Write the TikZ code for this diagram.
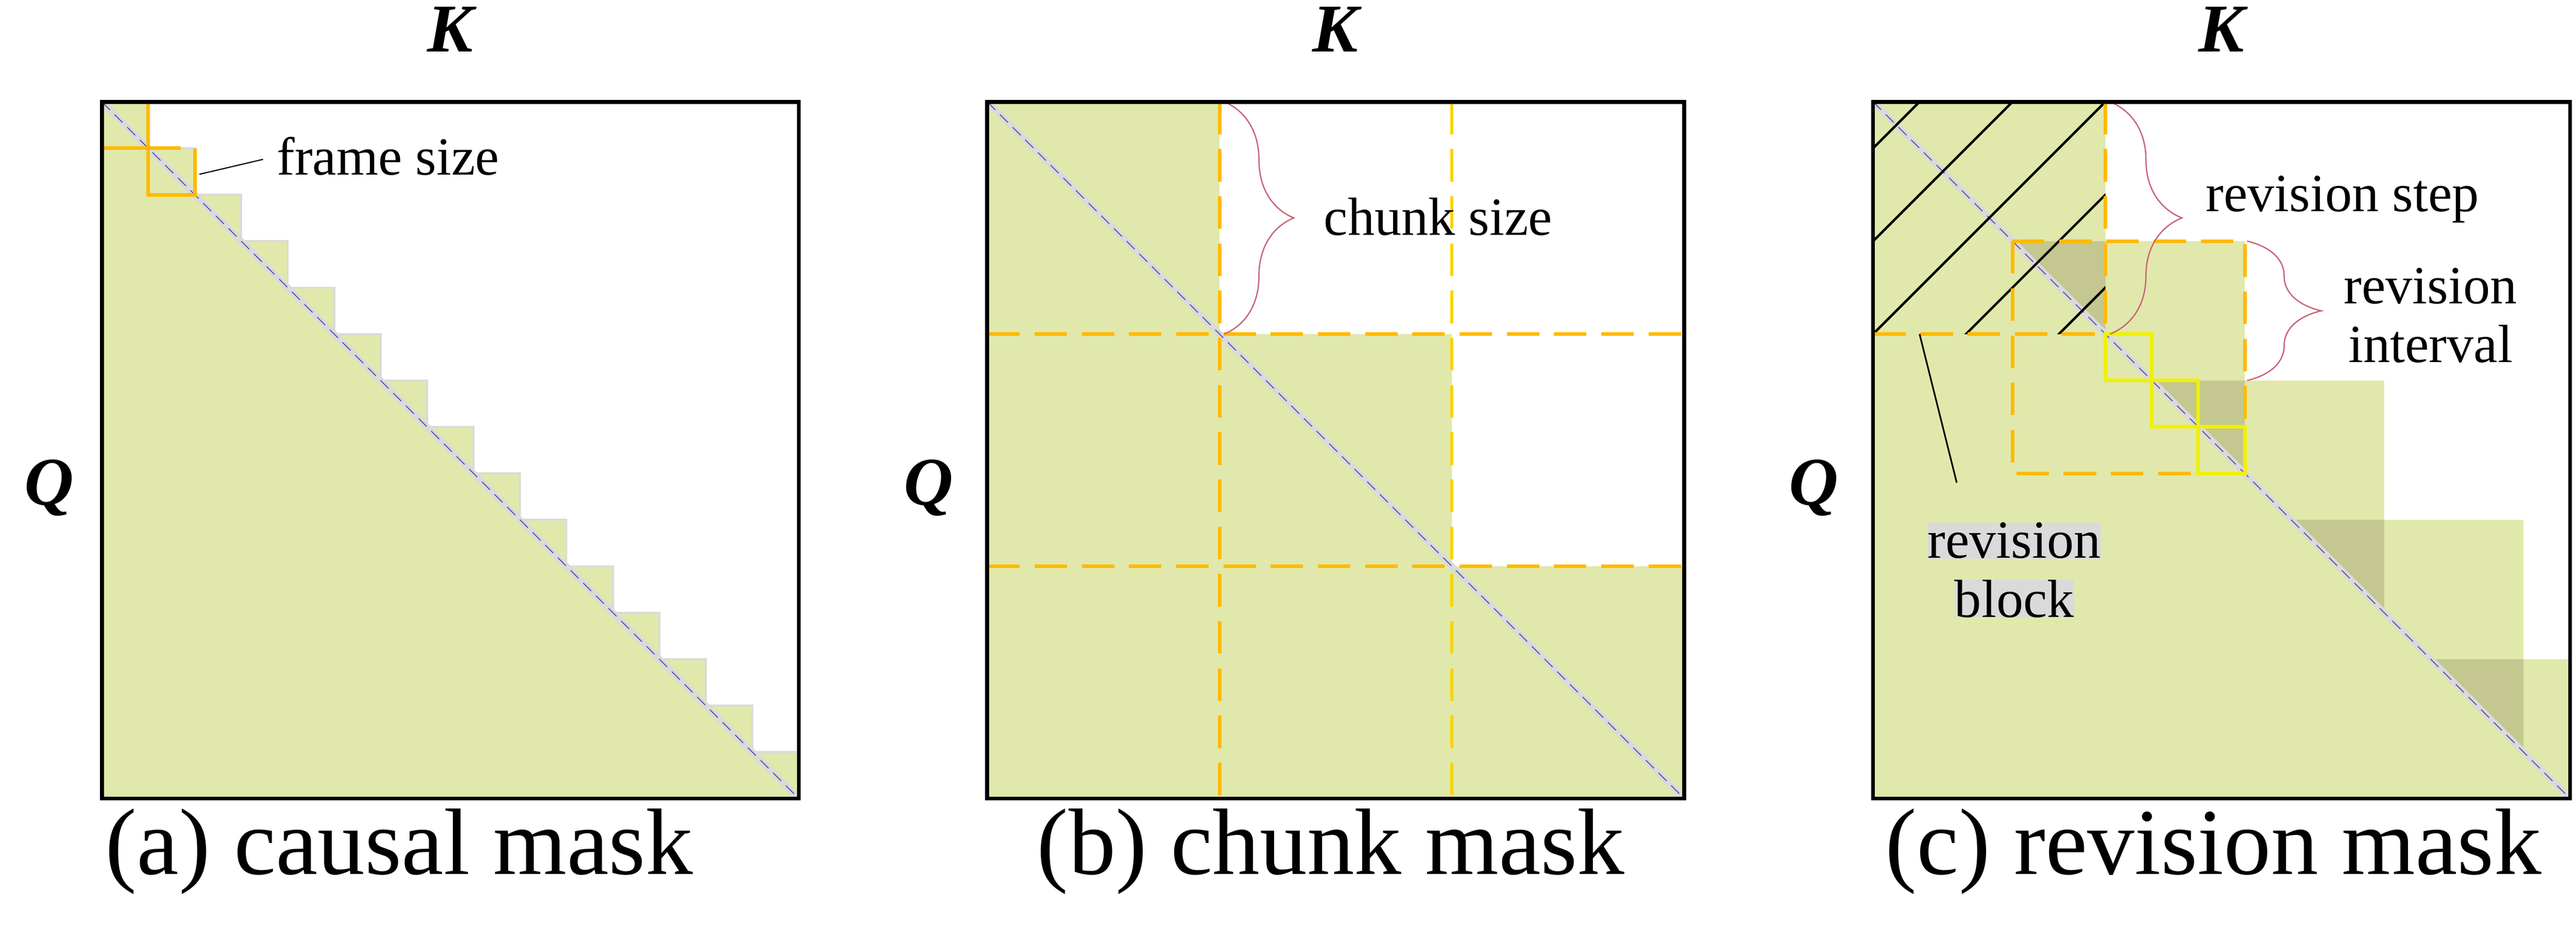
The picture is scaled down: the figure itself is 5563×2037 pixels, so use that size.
\documentclass[tikz,border=0pt]{standalone}
\usepackage{fontspec}
\setmainfont{Liberation Serif}
\usetikzlibrary{decorations.pathreplacing}
\definecolor{mgreen}{HTML}{E1E8AB}
\definecolor{mdark}{HTML}{C4C78F}
\definecolor{morange}{HTML}{FFBA00}
\definecolor{myellow}{HTML}{F0F000}
\definecolor{mhalo}{HTML}{DADADA}
\definecolor{mbrace}{HTML}{C86478}
\tikzset{
 frame/.style={line width=2.4pt, draw=black},
 halo/.style={draw=mhalo, line width=4pt},
 diag/.style={draw=gray!70!blue, line width=0.6pt, dash pattern=on 7pt off 4pt},
 odash/.style={draw=morange, line width=2.2pt, dash pattern=on 20pt off 9pt},
 lbl/.style={font=\fontsize{33}{36}\selectfont, inner sep=0pt},
 axis/.style={font=\fontsize{42}{46}\selectfont\bfseries\itshape},
 capt/.style={font=\fontsize{58}{64}\selectfont},
 brc/.style={draw=mbrace, line width=0.8pt, decorate, decoration={brace, amplitude=#1}},
 callout/.style={draw=black, line width=1pt},
}
\begin{document}
\begin{tikzpicture}[x=0.01cm,y=-0.01cm]
\useasboundingbox (0,0) rectangle (5563,2037);
% ---------- panel a
\begin{scope}[shift={(220,220)},x=1.0027cm,y=-1.0027cm]
 \fill[mgreen] (0,0) \foreach \i in {1,...,15}{ -- (\i,{\i-1}) -- (\i,\i)} -- (0,15) -- cycle;
 \draw[mhalo, line width=1.2pt] (0,0) \foreach \i in {1,...,15}{ -- (\i,{\i-1}) -- (\i,\i)};
 \draw[halo] (0,0) -- (15,15);
 \draw[diag] (0,0) -- (15,15);
 \draw[morange, line width=2.2pt] (0,1) -- (1.7,1) (1,0) -- (1,2) -- (2,2) -- (2,1);
 \node[lbl, anchor=west] (fs) at (3.76,1.17) {frame size};
 \coordinate (fa) at (2.1,1.56);
 \draw[callout, line width=0.7pt, shorten >=0.3cm] (fa) -- (fs.west);
 \draw[frame] (0,0) rectangle (15,15);
\end{scope}
\node[axis] (Ka) at (972,64) {K};
\node[axis] (Qa) at (106,1054) {Q};
\node[capt] (ca) at (862,1840) {(a) causal mask};
% ---------- panel b
\begin{scope}[shift={(2132,220)},x=1.0027cm,y=-1.0027cm]
 \fill[mgreen] (0,0) -- (5,0) -- (5,5) -- (10,5) -- (10,10) -- (15,10) -- (15,15) -- (0,15) -- cycle;
 \draw[halo] (0,0) -- (15,15);
 \draw[diag] (0,0) -- (15,15);
 \draw[odash] (5,0) -- (5,15);
 \draw[odash, draw=morange!50!myellow] (10,0) -- (10,15);
 \draw[odash] (0,5) -- (15,5) (0,10) -- (15,10);
 \draw[brc=1.5cm] (5.1,0) -- (5.1,5);
 \node[lbl, anchor=west] (cs) at (7.24,2.47) {chunk size};
 \draw[frame] (0,0) rectangle (15,15);
\end{scope}
\node[axis] (Kb) at (2884,64) {K};
\node[axis] (Qb) at (2005,1054) {Q};
\node[capt] (cb) at (2874,1840) {(b) chunk mask};
% ---------- panel c
\begin{scope}[shift={(4045,220)},x=1.0027cm,y=-1.0027cm]
 \fill[mgreen] (0,0) -- (5,0) -- (5,3) -- (8,3) -- (8,6) -- (11,6) -- (11,9) -- (14,9) -- (14,12) -- (15,12) -- (15,15) -- (0,15) -- cycle;
 \foreach \k in {1,...,4}{
   \fill[mdark] ({3*\k},{3*\k}) -- ({3*\k+2},{3*\k}) -- ({3*\k+2},{3*\k+2}) -- cycle;
 }
 \draw[halo] (0,0) -- (15,15);
 \draw[diag] (0,0) -- (15,15);
 \begin{scope}
  \clip (0,0) rectangle (5,5);
  \foreach \c in {1,3,5,7,9}{ \draw[black, line width=1.5pt] (0,\c) -- (\c,0); }
 \end{scope}
 \draw[odash] (0,5) -- (5,5) (5,0) -- (5,5);
 \draw[odash] (3,3) rectangle (8,8);
 \draw[myellow, line width=2.2pt] (5,5) rectangle (6,6) (6,6) rectangle (7,7) (7,7) rectangle (8,8);
 \draw[brc=1.55cm] (5.1,0) -- (5.1,5);
 \node[lbl] (rs) at (10.1,2.1) {revision step};
 \draw[brc=1.6cm] (8.05,3) -- (8.05,6);
 \node[lbl, align=center] (ri) at (12.0,4.6) {revision\\interval};
 \node[lbl, fill=mhalo] (rb1) at (3.04,9.45) {revision};
 \node[lbl, fill=mhalo] (rb2) at (3.04,10.7) {block};
 \coordinate (rba) at (1.0,5);
 \coordinate (rbb) at (1.8,8.2);
 \draw[callout] (rba) -- (rbb);
 \draw[frame] (0,0) rectangle (15,15);
\end{scope}
\node[axis] (Kc) at (4797,64) {K};
\node[axis] (Qc) at (3917,1054) {Q};
\node[capt] (cc) at (4780,1840) {(c) revision mask};
\end{tikzpicture}
\end{document}
